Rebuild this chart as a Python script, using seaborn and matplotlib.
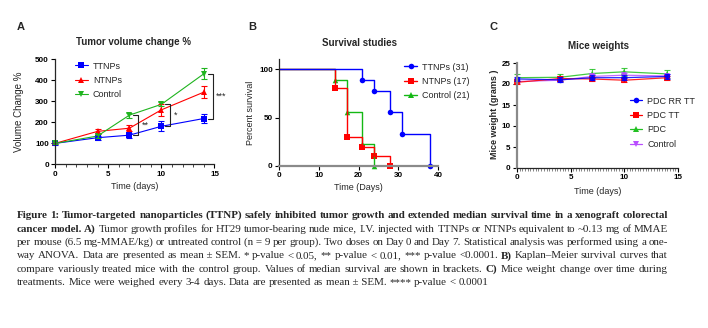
import matplotlib
matplotlib.use("Agg")
import matplotlib.pyplot as plt
import numpy as np
import pandas as pd
import seaborn as sns
from matplotlib.lines import Line2D
from matplotlib.ticker import MultipleLocator

# ---------------- data ----------------
# A) tumour volume change (%), mean and SEM
days_a = [0, 4, 7, 10, 14]
ttnp_vol = [100, 127, 139, 181, 218]
ttnp_sem = [6, 9, 12, 24, 20]
ntnp_vol = [100, 157, 172, 259, 343]
ntnp_sem = [5, 12, 15, 30, 30]
ctrl_vol = [100, 135, 234, 285, 430]
ctrl_sem = [5, 8, 12, 10, 25]
sig_days = [7, 10, 14]
sig_marks = ["**", "*", "***"]

# B) Kaplan-Meier survival (time, % surviving)
ttnp_t = [0, 21, 24, 28, 31, 38]
ttnp_surv = [100, 88.9, 77.8, 55.6, 33.3, 0]
ntnp_t = [0, 14, 17, 21, 24, 28]
ntnp_surv = [100, 80, 30, 20, 10, 0]
ctrl_t = [0, 14, 17, 21, 24]
ctrl_surv = [100, 88.9, 55.6, 22.2, 0]
median_surv = [31, 17, 21]

# C) mice weights (g), mean and SEM
days_c = [0, 4, 7, 10, 14]
rrtt_w = [21.2, 21.0, 21.5, 21.5, 21.8]
rrtt_sem = [0.5, 0.6, 0.6, 0.6, 0.5]
tt_w = [20.4, 21.3, 21.2, 20.9, 21.5]
tt_sem = [0.4, 0.5, 0.5, 0.5, 0.5]
pdc_w = [21.5, 21.6, 22.5, 22.9, 22.4]
pdc_sem = [0.8, 0.9, 1.0, 1.0, 1.0]
ctl_w = [20.6, 20.9, 21.8, 22.1, 21.9]
ctl_sem = [0.4, 0.5, 0.5, 0.5, 0.5]

BLUE, RED, GREEN, PURPLE = "#0000ff", "#ff0000", "#1fb41f", "#b94dff"

# ---------------- figure ----------------
sns.set_theme(style="ticks")
plt.rcParams["font.family"] = ["Liberation Sans", "DejaVu Sans"]
plt.rcParams["axes.linewidth"] = 0.9

W, H, DPI = 708, 328, 100
fig = plt.figure(figsize=(W / DPI, H / DPI), dpi=DPI)


def px_axes(left, right, top, bottom):
    return fig.add_axes([left / W, 1 - bottom / H, (right - left) / W, (bottom - top) / H])


def style_axes(ax):
    sns.despine(ax=ax)
    ax.tick_params(which="major", direction="out", length=3, width=0.8,
                   labelsize=5.8, pad=1.5, colors="black")
    ax.tick_params(which="minor", direction="out", length=1.8, width=0.6)
    for lab in ax.get_xticklabels() + ax.get_yticklabels():
        lab.set_fontweight("bold")
    ax.set_facecolor("none")


def unclip(ax):
    for art in ax.lines + ax.collections:
        art.set_clip_on(False)


LAB_FS = 6.5
LEG_FS = 6.5

# ---- A: tumour volume ----
axA = px_axes(55, 214.5, 59, 164.5)
groups_a = ["TTNPs", "NTNPs", "Control"]
vols = [ttnp_vol, ntnp_vol, ctrl_vol]
sems = [ttnp_sem, ntnp_sem, ctrl_sem]
cols_a = [BLUE, RED, GREEN]
mk_a = ["s", "^", "v"]
df_a = pd.concat([pd.DataFrame({"day": days_a, "vol": v, "group": g})
                  for g, v in zip(groups_a, vols)])
sns.lineplot(data=df_a, x="day", y="vol", hue="group", style="group",
             palette=dict(zip(groups_a, cols_a)), markers=dict(zip(groups_a, mk_a)),
             dashes=False, markersize=4.2, markeredgewidth=0, linewidth=0.8,
             legend=False, ax=axA)
for v, s, c in zip(vols, sems, cols_a):
    axA.errorbar(days_a, v, yerr=s, fmt="none", ecolor=c, elinewidth=0.8,
                 capsize=2, capthick=0.8)
# significance brackets between Control and TTNPs
for d, m in zip(sig_days, sig_marks):
    i = days_a.index(d)
    top, bot = ctrl_vol[i], ttnp_vol[i]
    xb = d + 0.85
    axA.plot([d + 0.35, xb, xb, d + 0.35], [top, top, bot, bot],
             color="#222222", lw=0.8, clip_on=False)
    axA.text(xb + 0.3, (top + bot) / 2, m, fontsize=6.5, ha="left",
             va="center", clip_on=False)
axA.set_xlim(0, 15)
axA.set_ylim(0, 500)
axA.xaxis.set_major_locator(MultipleLocator(5))
axA.xaxis.set_minor_locator(MultipleLocator(1))
axA.yaxis.set_major_locator(MultipleLocator(100))
axA.set_xlabel("Time (days)", fontsize=LAB_FS)
axA.set_ylabel("Volume Change %", fontsize=7)
style_axes(axA)
unclip(axA)
hA = [Line2D([], [], color=c, marker=m, markersize=4.2, markeredgewidth=0, lw=0.8)
      for c, m in zip(cols_a, mk_a)]
axA.legend(hA, groups_a, loc="upper left", bbox_to_anchor=(0.125, 0.975),
           frameon=False, fontsize=LEG_FS, handlelength=1.45, handletextpad=0.55,
           labelspacing=0.6, borderpad=0, borderaxespad=0)

# ---- B: survival ----
axB = px_axes(279, 438, 59.3, 166)
groups_b = ["TTNPs", "NTNPs", "Control"]
times = [ttnp_t, ntnp_t, ctrl_t]
survs = [ttnp_surv, ntnp_surv, ctrl_surv]
cols_b = [BLUE, RED, "#14b814"]
mk_b = ["o", "s", "^"]
for k in [2, 1, 0]:
    dfk = pd.DataFrame({"t": times[k], "s": survs[k]})
    sns.lineplot(data=dfk, x="t", y="s", color=cols_b[k], drawstyle="steps-post",
                 linewidth=1.0, ax=axB, legend=False)
    sns.scatterplot(data=dfk.iloc[1:], x="t", y="s", color=cols_b[k],
                    marker=mk_b[k], s=16, linewidth=0, ax=axB, legend=False)
axB.set_xlim(0, 40)
axB.set_ylim(0, 110)
axB.xaxis.set_major_locator(MultipleLocator(10))
axB.yaxis.set_major_locator(MultipleLocator(50))
axB.set_xlabel("Time (Days)", fontsize=LAB_FS)
axB.set_ylabel("Percent survival", fontsize=LAB_FS)
style_axes(axB)
axB.spines["bottom"].set_color("#8a8a8a")
axB.spines["bottom"].set_linewidth(1.6)
unclip(axB)
hB = [Line2D([], [], color=c, marker=m, markersize=4, markeredgewidth=0, lw=1.0)
      for c, m in zip(cols_b, mk_b)]
labB = [f"{g} ({m})" for g, m in zip(groups_b, median_surv)]
axB.legend(hB, labB, loc="upper left", bbox_to_anchor=(0.786, 0.97),
           frameon=False, fontsize=LEG_FS, handlelength=1.45, handletextpad=0.55,
           labelspacing=0.6, borderpad=0, borderaxespad=0)

# ---- C: mice weights ----
axC = px_axes(517, 678, 63, 168)
groups_c = ["PDC RR TT", "PDC TT", "PDC", "Control"]
wts = [rrtt_w, tt_w, pdc_w, ctl_w]
wsem = [rrtt_sem, tt_sem, pdc_sem, ctl_sem]
cols_c = [BLUE, RED, "#22c022", PURPLE]
mk_c = ["o", "s", "^", "v"]
df_c = pd.concat([pd.DataFrame({"day": days_c, "w": w, "group": g})
                  for g, w in zip(groups_c, wts)])
for g in ["PDC", "Control", "PDC TT", "PDC RR TT"]:
    k = groups_c.index(g)
    axC.errorbar(days_c, wts[k], yerr=wsem[k], fmt="none", ecolor=cols_c[k],
                 elinewidth=0.8, capsize=2, capthick=0.8, alpha=0.85)
    sns.lineplot(data=df_c[df_c.group == g], x="day", y="w", color=cols_c[k],
                 marker=mk_c[k], markersize=4, markeredgewidth=0, linewidth=0.9,
                 alpha=0.85, ax=axC, legend=False)
axC.set_xlim(0, 15)
axC.set_ylim(0, 25)
axC.xaxis.set_major_locator(MultipleLocator(5))
axC.xaxis.set_minor_locator(MultipleLocator(0.25))
axC.yaxis.set_major_locator(MultipleLocator(5))
axC.set_xlabel("Time (days)", fontsize=LAB_FS)
axC.set_ylabel("Mice weight (grams )", fontsize=LAB_FS, fontweight="bold")
style_axes(axC)
axC.spines["left"].set_color("#8a8a8a")
axC.spines["left"].set_linewidth(1.6)
axC.tick_params(axis="x", which="minor", length=2, width=0.5, color="#555555")
unclip(axC)
hC = [Line2D([], [], color=c, marker=m, markersize=4, markeredgewidth=0, lw=0.9)
      for c, m in zip(cols_c, mk_c)]
axC.legend(hC, groups_c, loc="upper left", bbox_to_anchor=(0.70, 0.68),
           frameon=False, fontsize=LEG_FS, handlelength=1.4, handletextpad=0.55,
           labelspacing=0.6, borderpad=0, borderaxespad=0)

# axis-label placement
axA.xaxis.set_label_coords(0.5, -0.213)
axB.xaxis.set_label_coords(0.5, -0.206)
axC.xaxis.set_label_coords(0.5, -0.22)
axA.yaxis.set_label_coords(-0.226, 0.5)
axB.yaxis.set_label_coords(-0.18, 0.5)
axC.yaxis.set_label_coords(-0.137, 0.51)
for ax in (axA, axB, axC):
    ax.xaxis.label.set_va("center")
    ax.yaxis.label.set_va("center")

# titles and panel letters
for x, y, t in [(134, 42, "Tumor volume change %"), (359, 43, "Survival studies"),
                (598, 46, "Mice weights")]:
    fig.text(x / W, 1 - y / H, t, ha="center", va="center", fontsize=7, fontweight="bold")
for x, y, t in [(17, 27, "A"), (248, 27, "B"), (490, 27, "C")]:
    fig.text(x / W, 1 - y / H, t, ha="left", va="center", fontsize=8, fontweight="bold")

# ---------------- caption (justified) ----------------
CAP_FS = 7.9
CAP_L, CAP_R = 17, 668
caption = [
    [("Figure 1: Tumor-targeted nanoparticles (TTNP) safely inhibited tumor growth and "
      "extended median survival time in a xenograft colorectal", True)],
    [("cancer model.", True), ("A)", True),
     ("Tumor growth profiles for HT29 tumor-bearing nude mice, I.V. injected with TTNPs "
      "or NTNPs equivalent to ~0.13 mg of MMAE", False)],
    [("per mouse (6.5 mg-MMAE/kg) or untreated control (n\u00a0=\u00a09 per group). Two doses on "
      "Day 0 and Day 7. Statistical analysis was performed using a one-", False)],
    [("way ANOVA. Data are presented as mean\u00a0±\u00a0SEM. * p-value < 0.05, ** p-value < 0.01, "
      "*** p-value <0.0001.", False), ("B)", True),
     ("Kaplan\u2013Meier survival curves that", False)],
    [("compare variously treated mice with the control group. Values of median survival "
      "are shown in brackets.", False), ("C)", True),
     ("Mice weight change over time during", False)],
    [("treatments. Mice were weighed every 3-4 days. Data are presented as "
      "mean\u00a0±\u00a0SEM. **** p-value < 0.0001", False)],
]
line_y = [215, 228.5, 242, 255.5, 268.8, 282]

renderer = fig.canvas.get_renderer()
space_px = 0.25 * CAP_FS * DPI / 72
for li, (runs, y) in enumerate(zip(caption, line_y)):
    words = [(w, b) for txt, b in runs for w in txt.split(" ") if w]
    texts = [fig.text(0, 1 - (y + 3) / H, w, fontsize=CAP_FS,
                      family=["Liberation Serif", "DejaVu Serif"],
                      fontweight="bold" if b else "normal", va="baseline", ha="left")
             for w, b in words]
    widths = [t.get_window_extent(renderer).width for t in texts]
    last = li == len(caption) - 1
    gap = space_px if last else max(1.2, (CAP_R - CAP_L - sum(widths)) / (len(words) - 1))
    x = CAP_L
    for t, wd in zip(texts, widths):
        t.set_x(x / W)
        x += wd + gap

fig.savefig("out.png", dpi=DPI)
